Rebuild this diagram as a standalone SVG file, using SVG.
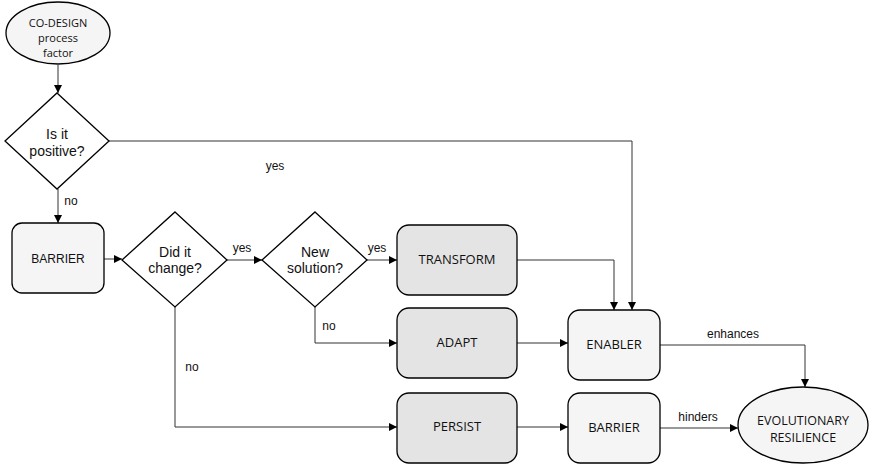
<svg xmlns="http://www.w3.org/2000/svg" width="869" height="468" viewBox="0 0 869 468">
<style>
.sh{stroke:#000;stroke-width:1.3}
.lt{fill:#f5f5f5}
.dk{fill:#e4e4e4}
.dm{fill:#fff}
.c{fill:none;stroke:#333;stroke-width:1}
.o{font-family:"Open Sans",sans-serif;font-size:13px;fill:#111;text-anchor:middle}
.s{font-size:11px}
.e{font-size:12.5px}
.a{font-family:"Liberation Sans",Arial,sans-serif;fill:#111;text-anchor:middle}
.d{font-size:14px}
.l{font-size:12px}
</style>
<defs>
<marker id="ar" viewBox="0 0 10 10" refX="10" refY="5" markerWidth="8" markerHeight="8" markerUnits="userSpaceOnUse" orient="auto">
<path d="M0,0 L10,5 L0,10 z" fill="#000"/>
</marker>
</defs>
<rect width="869" height="468" fill="#fff"/>
<g id="connectors">
<path class="c" d="M58,65 V93" marker-end="url(#ar)"/>
<path class="c" d="M58,189 V223" marker-end="url(#ar)"/>
<path class="c" d="M109,141 H632 V310" marker-end="url(#ar)"/>
<path class="c" d="M104,259 H122" marker-end="url(#ar)"/>
<path class="c" d="M227,260 H262" marker-end="url(#ar)"/>
<path class="c" d="M367,260 H397" marker-end="url(#ar)"/>
<path class="c" d="M517,260 H614 V310" marker-end="url(#ar)"/>
<path class="c" d="M315,307 V343 H397" marker-end="url(#ar)"/>
<path class="c" d="M517,343 H568" marker-end="url(#ar)"/>
<path class="c" d="M175,307 V427 H397" marker-end="url(#ar)"/>
<path class="c" d="M517,427 H568" marker-end="url(#ar)"/>
<path class="c" d="M660,345 H805 V387" marker-end="url(#ar)"/>
<path class="c" d="M660,428 H738" marker-end="url(#ar)"/>
<text class="a l" x="71" y="205">no</text>
<text class="a l" x="275" y="170">yes</text>
<text class="a l" x="242" y="252">yes</text>
<text class="a l" x="377" y="252">yes</text>
<text class="a l" x="329" y="330">no</text>
<text class="a l" x="192" y="371">no</text>
<text class="a l" x="733" y="338">enhances</text>
<text class="a l" x="698" y="421">hinders</text>
</g>
<g id="codesign">
<ellipse class="sh lt" cx="58" cy="33" rx="52" ry="31"/>
<text class="o s" x="58" y="27">CO-DESIGN</text>
<text class="o s" x="58" y="42">process</text>
<text class="o s" x="58" y="57">factor</text>
</g>
<g id="positive">
<polygon class="sh dm" points="57,93 109,141 57,189 5,141"/>
<text class="a d" x="57" y="139">Is it</text>
<text class="a d" x="57" y="156">positive?</text>
</g>
<g id="barrier1">
<rect class="sh lt" x="12" y="223" width="92" height="70" rx="10"/>
<text class="a l" x="58" y="263">BARRIER</text>
</g>
<g id="change">
<polygon class="sh dm" points="175,212 227,260 175,307 122,260"/>
<text class="a d" x="175" y="257">Did it</text>
<text class="a d" x="175" y="273">change?</text>
</g>
<g id="solution">
<polygon class="sh dm" points="315,212 367,260 315,307 262,260"/>
<text class="a d" x="315" y="257">New</text>
<text class="a d" x="315" y="273">solution?</text>
</g>
<g id="transform">
<rect class="sh dk" x="397" y="225" width="120" height="70" rx="12"/>
<text class="o" x="457" y="264">TRANSFORM</text>
</g>
<g id="adapt">
<rect class="sh dk" x="397" y="308" width="120" height="70" rx="12"/>
<text class="o" x="457" y="347">ADAPT</text>
</g>
<g id="persist">
<rect class="sh dk" x="397" y="393" width="120" height="70" rx="12"/>
<text class="o" x="457" y="431">PERSIST</text>
</g>
<g id="enabler">
<rect class="sh lt" x="568" y="310" width="92" height="70" rx="12"/>
<text class="o" x="614" y="349">ENABLER</text>
</g>
<g id="barrier2">
<rect class="sh lt" x="568" y="393" width="92" height="70" rx="12"/>
<text class="o" x="614" y="432">BARRIER</text>
</g>
<g id="resilience">
<ellipse class="sh lt" cx="803" cy="425" rx="65" ry="38"/>
<text class="o e" x="803" y="425">EVOLUTIONARY</text>
<text class="o e" x="803" y="442">RESILIENCE</text>
</g>
</svg>
